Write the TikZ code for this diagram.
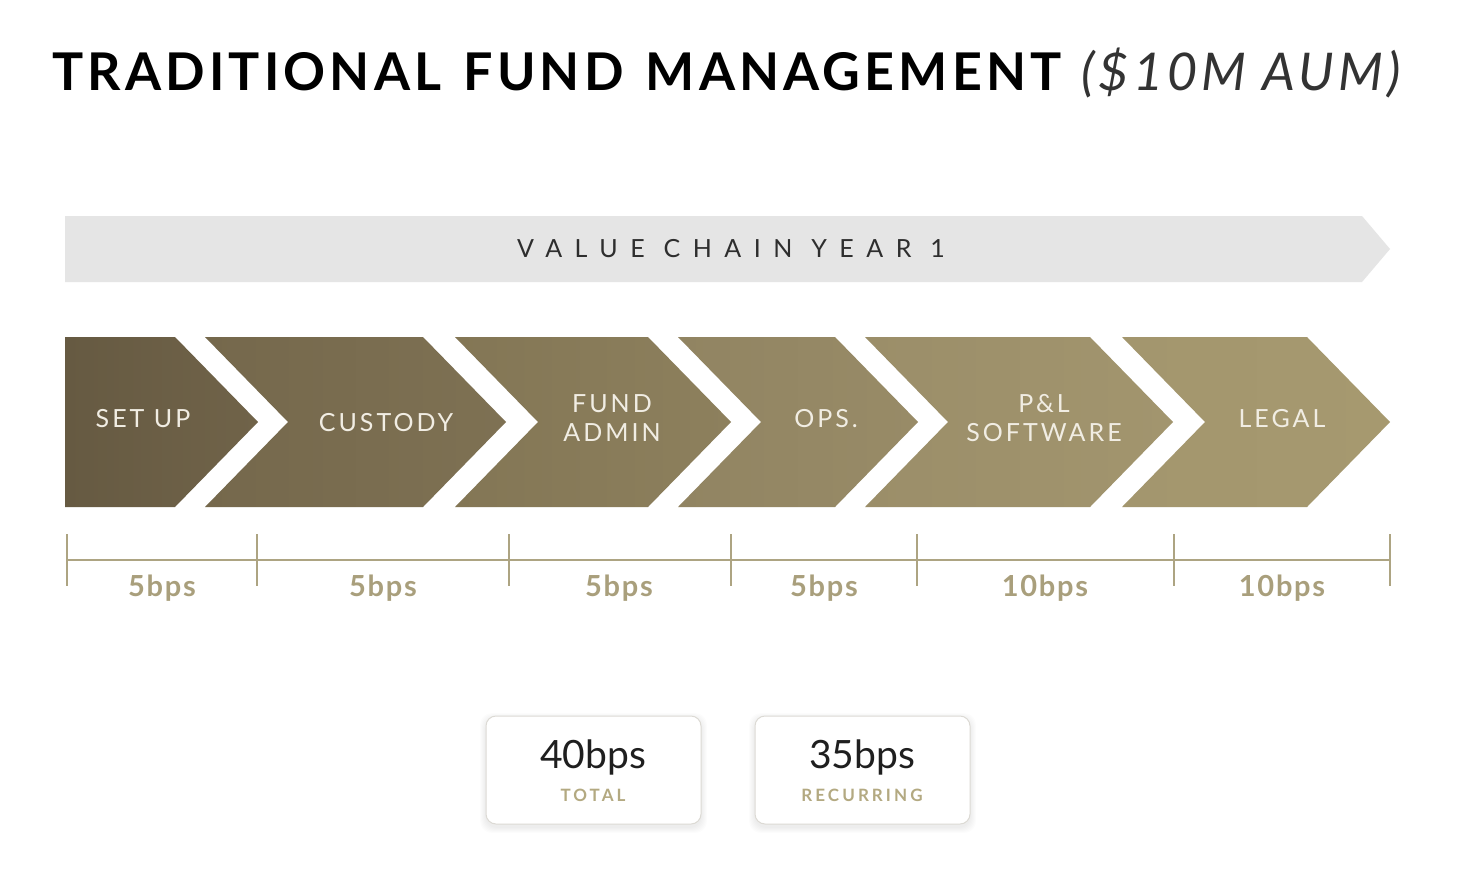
\documentclass[tikz,border=0pt]{standalone}
\usepackage{fontspec}
\setmainfont{Lato}
\newfontfamily\titlefont[LetterSpace=8]{Lato}
\newfontfamily\chainfont[LetterSpace=50]{Lato}
\newfontfamily\labfont[LetterSpace=12]{Lato}
\newfontfamily\bpsfont[LetterSpace=6]{Lato}
\newfontfamily\capfont[LetterSpace=18]{Lato}
\definecolor{chainbg}{HTML}{E5E5E5}
\definecolor{chaintext}{HTML}{2E2E2E}
\definecolor{labtext}{HTML}{F1EDE3}
\definecolor{rulecol}{HTML}{ADA482}
\definecolor{bpscol}{HTML}{A99F7C}
\definecolor{capcol}{HTML}{B3A981}
\definecolor{boxline}{HTML}{DCDAD4}
\definecolor{cA}{HTML}{665A42}
\definecolor{cB}{HTML}{706349}
\definecolor{cC}{HTML}{75684C}
\definecolor{cD}{HTML}{7E7153}
\definecolor{cE}{HTML}{837655}
\definecolor{cF}{HTML}{8D805D}
\definecolor{cG}{HTML}{918462}
\definecolor{cH}{HTML}{988B67}
\definecolor{cI}{HTML}{9B8E69}
\definecolor{cJ}{HTML}{A2956E}
\definecolor{cK}{HTML}{A3966E}
\definecolor{cL}{HTML}{A6996F}
\begin{document}
\begin{tikzpicture}[x=1pt,y=-1pt,
  chevlab/.style={text=labtext, font=\labfont\fontsize{25}{29}\selectfont, align=center, inner sep=0pt},
  bpslab/.style={text=bpscol, font=\bpsfont\bfseries\fontsize{29}{29}\selectfont, inner sep=0pt},
  rulestyle/.style={draw=rulecol, line width=2.4pt},
  statbox/.style={draw=boxline, line width=1pt, fill=white, rounded corners=10pt},
  bignum/.style={text=black!88, font=\fontsize{39}{39}\selectfont, inner sep=0pt},
  smallcap/.style={text=capcol, font=\capfont\bfseries\fontsize{17}{17}\selectfont, inner sep=0pt}]
\useasboundingbox (0,0) rectangle (1474,886);
\fill[white] (0,0) rectangle (1474,886);

% title
\node[anchor=base west, inner sep=0pt] (title) at (52,90)
  {\titlefont\bfseries\fontsize{52}{52}\selectfont TRADITIONAL\hspace{22pt}FUND\hspace{22pt}MANAGEMENT\hspace{20pt}{\mdseries\itshape\color{black!80}(\$10M AUM)}};

% value chain bar
\fill[chainbg] (65,216) -- (1362,216) -- (1390,249) -- (1362,282) -- (65,282) -- cycle;
\node[text=chaintext, font=\chainfont\fontsize{25}{25}\selectfont, inner sep=0pt] (chain) at (731,249) {VALUE\ CHAIN\ YEAR\ 1};

% chevrons
\shade[left color=cA, right color=cB] (65,337) -- (175,337) -- (258,422) -- (175,507) -- (65,507) -- cycle;
\shade[left color=cC, right color=cD] (205,337) -- (423,337) -- (506,422) -- (423,507) -- (205,507) -- (288,422) -- cycle;
\shade[left color=cE, right color=cF] (455,337) -- (648,337) -- (731,422) -- (648,507) -- (455,507) -- (538,422) -- cycle;
\shade[left color=cG, right color=cH] (678,337) -- (835,337) -- (918,422) -- (835,507) -- (678,507) -- (761,422) -- cycle;
\shade[left color=cI, right color=cJ] (865,337) -- (1090,337) -- (1173,422) -- (1090,507) -- (865,507) -- (948,422) -- cycle;
\shade[left color=cK, right color=cL] (1122,337) -- (1307,337) -- (1390,422) -- (1307,507) -- (1122,507) -- (1205,422) -- cycle;

\node[chevlab] (setup) at (143,419) {SET UP};
\node[chevlab] (custody) at (386,423) {CUSTODY};
\node[chevlab] (fundadmin) at (612,418) {FUND\\ADMIN};
\node[chevlab] (ops) at (826,419) {OPS.};
\node[chevlab] (pl) at (1044,418) {P\&L\\SOFTWARE};
\node[chevlab] (legal) at (1282,419) {LEGAL};

% ruler
\draw[rulestyle] (67,560) -- (1390,560);
\foreach \x in {67,257,509,731,917,1174,1390}
  \draw[rulestyle] (\x,534) -- (\x,586);

\node[bpslab] (b1) at (162,588) {5bps};
\node[bpslab] (b2) at (383,588) {5bps};
\node[bpslab] (b3) at (619,588) {5bps};
\node[bpslab] (b4) at (824,588) {5bps};
\node[bpslab] (b5) at (1045,588) {10bps};
\node[bpslab] (b6) at (1282,588) {10bps};

% stat boxes with soft shadow
\foreach \bx in {486,755} {
  \foreach \s in {1,...,6}
    \fill[black, opacity=0.012, rounded corners=12pt] (\bx-\s,716-\s+3) rectangle (\bx+215+\s,824+\s+3);
  \draw[statbox] (\bx,716) rectangle (\bx+215,824);
}
\node[bignum] (total) at (593,757) {40bps};
\node[smallcap] (totallab) at (593,795) {TOTAL};
\node[bignum] (recur) at (862,757) {35bps};
\node[smallcap] (recurlab) at (862,795) {RECURRING};
\end{tikzpicture}
\end{document}
